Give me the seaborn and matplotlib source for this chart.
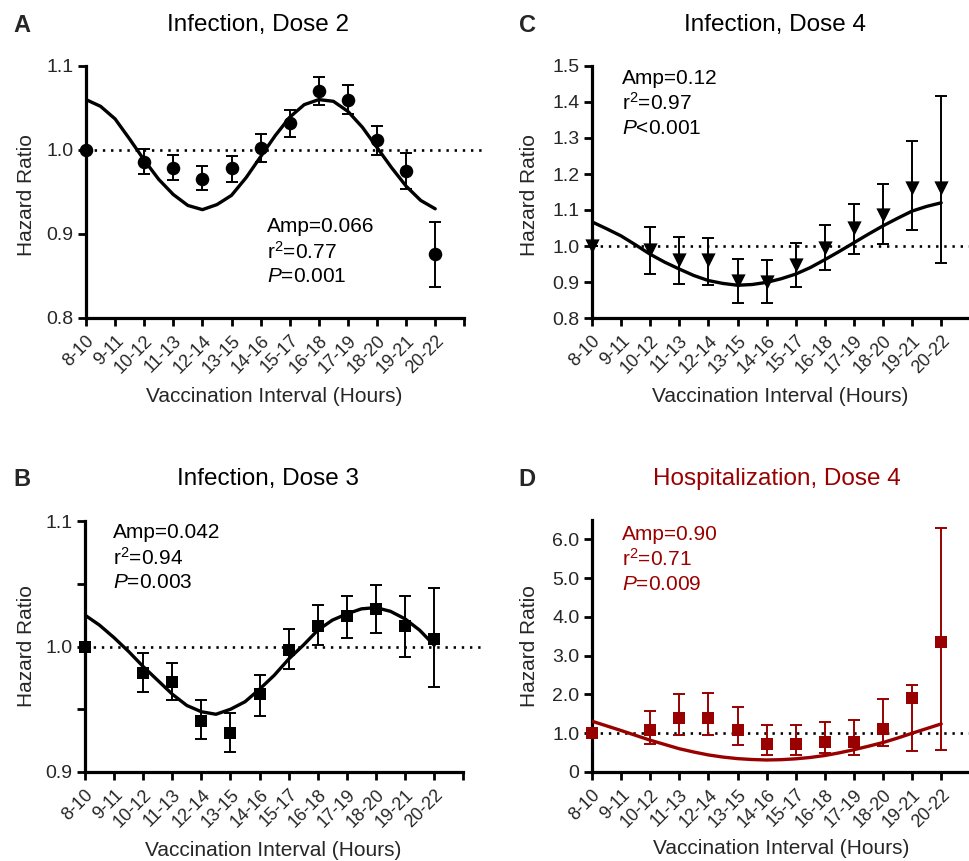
import numpy as np
import matplotlib
matplotlib.use("Agg")
import matplotlib.pyplot as plt
import seaborn as sns

sns.set_theme(style="ticks")
plt.rcParams['font.family'] = ['Liberation Sans', 'DejaVu Sans']
plt.rcParams['mathtext.fontset'] = 'custom'
plt.rcParams['mathtext.rm'] = 'Liberation Sans'
plt.rcParams['mathtext.it'] = 'Liberation Sans:italic'

nan = np.nan
intervals = ['8-10', '9-11', '10-12', '11-13', '12-14', '13-15', '14-16',
             '15-17', '16-18', '17-19', '18-20', '19-21', '20-22']

# hazard ratios with 95% CI (9-11 has no estimate)
a_hr = [1.0, nan, 0.986, 0.979, 0.966, 0.978, 1.002, 1.032, 1.070, 1.060, 1.012, 0.975, 0.876]
a_lo = [1.0, nan, 0.971, 0.964, 0.952, 0.962, 0.986, 1.015, 1.054, 1.043, 0.994, 0.954, 0.837]
a_hi = [1.0, nan, 1.001, 0.994, 0.981, 0.993, 1.019, 1.048, 1.087, 1.077, 1.029, 0.997, 0.914]
a_fit = [1.060, 1.052, 1.037, 1.013, 0.988, 0.965, 0.947, 0.934, 0.929, 0.935, 0.946, 0.967,
         0.992, 1.017, 1.039, 1.054, 1.060, 1.058, 1.046, 1.027, 1.003, 0.979, 0.957, 0.940, 0.930]

b_hr = [1.0, nan, 0.979, 0.972, 0.941, 0.931, 0.962, 0.997, 1.016, 1.024, 1.030, 1.016, 1.006]
b_lo = [1.0, nan, 0.964, 0.957, 0.926, 0.916, 0.945, 0.982, 1.001, 1.007, 1.011, 0.992, 0.968]
b_hi = [1.0, nan, 0.995, 0.987, 0.957, 0.947, 0.977, 1.014, 1.033, 1.040, 1.049, 1.040, 1.047]
b_fit = [1.025, 1.017, 1.007, 0.996, 0.984, 0.973, 0.962, 0.953, 0.948, 0.946, 0.950, 0.956,
         0.966, 0.977, 0.990, 1.001, 1.013, 1.021, 1.026, 1.030, 1.031, 1.028, 1.022, 1.013, 1.001]

c_hr = [1.0, nan, 0.990, 0.960, 0.960, 0.903, 0.901, 0.946, 0.995, 1.049, 1.086, 1.162, 1.162]
c_lo = [1.0, nan, 0.922, 0.894, 0.892, 0.842, 0.843, 0.885, 0.932, 0.979, 1.005, 1.045, 0.952]
c_hi = [1.0, nan, 1.054, 1.025, 1.023, 0.964, 0.962, 1.007, 1.059, 1.117, 1.171, 1.292, 1.418]
c_fit = [1.067, 1.048, 1.028, 1.003, 0.977, 0.955, 0.936, 0.918, 0.904, 0.896, 0.891, 0.893,
         0.899, 0.909, 0.922, 0.940, 0.962, 0.985, 1.009, 1.033, 1.056, 1.077, 1.097, 1.110, 1.120]

d_hr = [1.0, nan, 1.09, 1.39, 1.40, 1.09, 0.72, 0.72, 0.77, 0.78, 1.11, 1.92, 3.35]
d_lo = [1.0, nan, 0.72, 0.95, 0.95, 0.70, 0.44, 0.44, 0.48, 0.44, 0.67, 0.53, 0.57]
d_hi = [1.0, nan, 1.58, 2.01, 2.05, 1.67, 1.20, 1.20, 1.28, 1.34, 1.89, 2.25, 6.30]
d_fit = [1.31, 1.19, 1.07, 0.945, 0.82, 0.71, 0.60, 0.515, 0.44, 0.385, 0.345, 0.322,
         0.31, 0.318, 0.34, 0.375, 0.425, 0.495, 0.575, 0.665, 0.76, 0.875, 1.00, 1.12, 1.24]

stats_a = ['Amp=0.066', 'r$^{2}$=0.77', '$P$=0.001']
stats_b = ['Amp=0.042', 'r$^{2}$=0.94', '$P$=0.003']
stats_c = ['Amp=0.12', 'r$^{2}$=0.97', '$P$<0.001']
stats_d = ['Amp=0.90', 'r$^{2}$=0.71', '$P$=0.009']

DARKRED = '#990000'
W, H = 970, 861
fig = plt.figure(figsize=(W / 100, H / 100), dpi=100)


def px_rect(left, top, bottom, width):
    return [left / W, 1 - bottom / H, width / W, (bottom - top) / H]


def panel(rect, hr, lo, hi, fit, marker, color, ylim, yticks, ylabels, msize):
    ax = fig.add_axes(rect)
    pos = np.arange(len(intervals))
    hr, lo, hi = np.array(hr), np.array(lo), np.array(hi)
    curve_pos = np.arange(0, 12.5, 0.5)
    ax.axhline(1.0, color='black', lw=1.9, ls=(0, (0.9, 2.2)), zorder=1)
    ax.errorbar(pos, hr, yerr=[hr - lo, hi - hr], fmt='none', ecolor=color,
                elinewidth=1.4, capsize=4.5, capthick=1.4, zorder=2)
    sns.lineplot(x=curve_pos, y=fit, ax=ax, color=color, lw=2.4, zorder=3,
                 solid_joinstyle='round', solid_capstyle='round')
    sns.scatterplot(x=pos, y=hr, ax=ax, marker=marker, s=msize, color=color,
                    linewidth=0, zorder=4, clip_on=False)
    ax.set_xlim(0, 13.6)
    ax.set_ylim(*ylim)
    ax.set_xticks(np.arange(14))
    ax.set_xticklabels(intervals + [''], rotation=45, ha='right',
                       rotation_mode='anchor', fontsize=13)
    ax.set_yticks(yticks)
    ax.set_yticklabels(ylabels, fontsize=14)
    ax.tick_params(axis='both', length=6, width=2, color='black', pad=3)
    ax.tick_params(axis='x', pad=4)
    sns.despine(ax=ax)
    ax.spines['bottom'].set_bounds(0, 13)
    for s in ['left', 'bottom']:
        ax.spines[s].set_linewidth(2.3)
        ax.spines[s].set_color('black')
    return ax


def labels(letter, lx, title, tx, ty, tcolor, ylab_x, ylab_y, xlab_x, xlab_y,
           stats, sx, sy, scolor):
    fig.text(lx / W, 1 - ty / H, letter, fontsize=17, fontweight='bold',
             ha='center', va='center')
    fig.text(tx / W, 1 - ty / H, title, fontsize=17.5, color=tcolor,
             ha='center', va='center')
    fig.text(ylab_x / W, 1 - ylab_y / H, 'Hazard Ratio', fontsize=15,
             rotation=90, ha='center', va='center')
    fig.text(xlab_x / W, 1 - xlab_y / H, 'Vaccination Interval (Hours)',
             fontsize=15, ha='center', va='center')
    for i, line in enumerate(stats):
        fig.text(sx / W, 1 - (sy + 25 * i) / H, line, fontsize=15,
                 color=scolor, ha='left', va='center')


axw = 29.1 * 13.6
panel(px_rect(86, 66, 318, axw), a_hr, a_lo, a_hi, a_fit, 'o', 'black',
      (0.8, 1.1), [0.8, 0.9, 1.0, 1.1], ['0.8', '0.9', '1.0', '1.1'], 95)
panel(px_rect(592, 66, 318, axw), c_hr, c_lo, c_hi, c_fit, 'v', 'black',
      (0.8, 1.5), [0.8, 0.9, 1.0, 1.1, 1.2, 1.3, 1.4, 1.5],
      ['0.8', '0.9', '1.0', '1.1', '1.2', '1.3', '1.4', '1.5'], 105)
panel(px_rect(85, 521, 772, axw), b_hr, b_lo, b_hi, b_fit, 's', 'black',
      (0.9, 1.1), [0.9, 0.95, 1.0, 1.05, 1.1], ['0.9', '', '1.0', '', '1.1'], 85)
panel(px_rect(592, 520, 772, axw), d_hr, d_lo, d_hi, d_fit, 's', DARKRED,
      (0, 6.5), [0, 1, 2, 3, 4, 5, 6],
      ['0', '1.0', '2.0', '3.0', '4.0', '5.0', '6.0'], 85)

labels('A', 22, 'Infection, Dose 2', 258, 25, 'black', 27, 195, 274, 397,
       stats_a, 267, 227, 'black')
labels('C', 528, 'Infection, Dose 4', 775, 25, 'black', 530, 195, 780, 397,
       stats_c, 622, 78, 'black')
labels('B', 22, 'Infection, Dose 3', 268, 479, 'black', 27, 646, 273, 850,
       stats_b, 113, 533, 'black')
labels('D', 527, 'Hospitalization, Dose 4', 777, 479, DARKRED, 530, 646, 781, 849,
       stats_d, 622, 534, DARKRED)

fig.savefig('out.png', dpi=100)
